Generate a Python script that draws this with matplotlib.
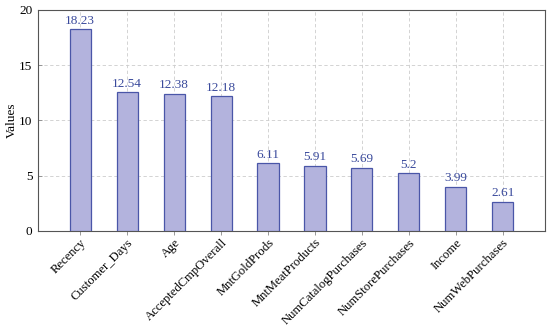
import numpy as np
import matplotlib.pyplot as plt

plt.rcParams['font.family'] = ['Liberation Serif', 'DejaVu Serif']
plt.rcParams['font.size'] = 9

# 数据
features = ['Recency', 'Customer_Days', 'Age', 'AcceptedCmpOverall', 'MntGoldProds',
            'MntMeatProducts', 'NumCatalogPurchases', 'NumStorePurchases', 'Income',
            'NumWebPurchases']
values = [18.23, 12.54, 12.38, 12.18, 6.11, 5.91, 5.69, 5.2, 3.99, 2.61]
value_labels = ['18.23', '12.54', '12.38', '12.18', '6.11', '5.91', '5.69', '5.2', '3.99', '2.61']
y_ticks = [0, 5, 10, 15, 20]

fig = plt.figure(figsize=(5.5, 3.29), dpi=100)
ax = fig.add_axes([0.069, 0.298, 0.922, 0.672])

x = np.arange(len(features))
bars = ax.bar(x, values, width=0.45, color='#b3b3dd', edgecolor='#4a56a8',
              linewidth=0.9, zorder=3)

for xi, v, lab in zip(x, values, value_labels):
    ax.annotate(lab, (xi, v), xytext=(0, 2), textcoords='offset points',
                ha='center', va='bottom', color='#3a4a9c', fontsize=9.5, zorder=4)

ax.set_xlim(-0.9, len(features) - 0.1)
ax.set_ylim(0, 20)
ax.set_yticks(y_ticks)
ax.set_xticks(x)
ax.set_xticklabels(features, rotation=45, ha='right', rotation_mode='anchor', fontsize=9.1)
ax.set_ylabel('Values', fontsize=9.5, labelpad=1)

ax.grid(True, linestyle=(0, (4, 3)), color='#cccccc', linewidth=0.6, zorder=0)
ax.tick_params(axis='both', direction='in', length=3, color='#888888', width=0.6)
ax.tick_params(axis='x', direction='out', length=3, pad=1)
ax.tick_params(axis='y', pad=4, labelsize=9.5)
for sp in ax.spines.values():
    sp.set_color('#555555')
    sp.set_linewidth(0.8)

fig.savefig('out.png', dpi=100)
